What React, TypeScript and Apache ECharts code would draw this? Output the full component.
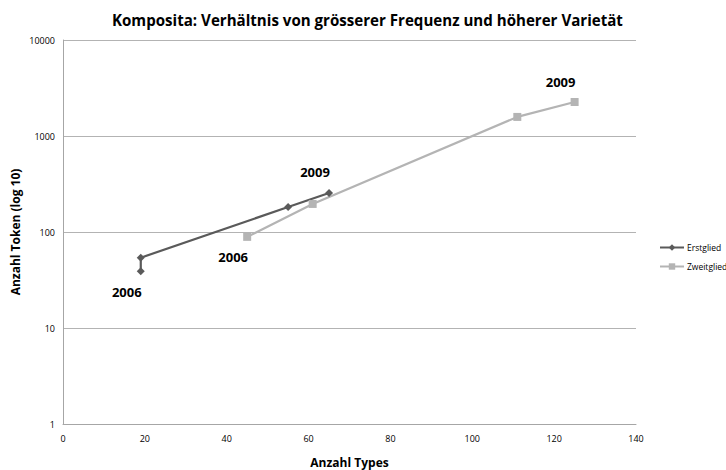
import React, { useEffect, useRef } from "react";
import * as echarts from "echarts";

const titleText = "Komposita: Verhältnis von grösserer Frequenz und höherer Varietät";
const seriesNames = ["Erstglied", "Zweitglied"];
const erstX = [19, 19, 55, 65];
const erstY = [39, 54, 182, 255];
const erstLabels = ["2006", "", "", "2009"];
const zweitX = [45, 61, 111, 125];
const zweitY = [89, 196, 1580, 2260];
const zweitLabels = ["2006", "", "", "2009"];
const colors = ["#5a5a5a", "#b4b4b4"];

const FONT = "'Open Sans', 'Liberation Sans', sans-serif";

function buildData(xs: number[], ys: number[], labels: string[]) {
  return xs.map((x, i) => {
    const item: any = { value: [x, ys[i]] };
    if (labels[i]) {
      const below = i === 0;
      item.label = {
        show: true,
        formatter: labels[i],
        position: below ? "bottom" : "top",
        distance: 10,
        offset: [-14, 0],
        fontSize: 13,
        fontWeight: "bold",
        color: "#000",
        fontFamily: FONT,
      };
    }
    return item;
  });
}

export default function App() {
  const ref = useRef<HTMLDivElement>(null);
  useEffect(() => {
    if (!ref.current) return;
    const chart = echarts.init(ref.current, null, { renderer: "svg" });
    chart.setOption({
      animation: false,
      backgroundColor: "#fff",
      title: {
        text: titleText,
        left: 107,
        top: 7,
        textStyle: { fontSize: 15.1, fontWeight: "bold", color: "#000", fontFamily: FONT },
      },
      grid: { left: 63, right: 90, top: 40, bottom: 46, containLabel: false, outerBoundsMode: "none" },
      legend: {
        orient: "vertical",
        left: 654,
        top: 238,
        itemWidth: 24,
        itemHeight: 8,
        itemGap: 10,
        textStyle: { fontSize: 8.5, color: "#000", fontFamily: FONT, padding: [0, 0, 0, -2] },
        data: seriesNames,
      },
      xAxis: {
        type: "value",
        min: 0,
        max: 140,
        interval: 20,
        name: "Anzahl Types",
        nameLocation: "middle",
        nameGap: 32,
        nameTextStyle: { fontSize: 12, fontWeight: "bold", color: "#000", fontFamily: FONT },
        axisLine: { show: true, lineStyle: { color: "#a6a6a6" } },
        axisTick: { show: false },
        splitLine: { show: false },
        axisLabel: { fontSize: 9, color: "#000", fontFamily: FONT, margin: 10 },
      },
      yAxis: {
        type: "log",
        logBase: 10,
        min: 1,
        max: 10000,
        name: "Anzahl Token (log 10)",
        nameLocation: "middle",
        nameGap: 42,
        nameRotate: 90,
        nameMoveOverlap: false,
        nameTextStyle: { fontSize: 12, fontWeight: "bold", color: "#000", fontFamily: FONT },
        axisLine: { show: true, lineStyle: { color: "#a6a6a6" } },
        axisTick: { show: false },
        splitLine: { show: true, lineStyle: { color: "#b3b3b3" } },
        axisLabel: {
          fontSize: 9,
          color: "#000",
          fontFamily: FONT,
          margin: 8,
          formatter: (v: number) => String(Math.round(v)),
        },
      },
      series: [
        {
          name: seriesNames[0],
          type: "line",
          data: buildData(erstX, erstY, erstLabels),
          symbol: "diamond",
          symbolSize: 8,
          itemStyle: { color: colors[0] },
          lineStyle: { color: colors[0], width: 2.2 },
        },
        {
          name: seriesNames[1],
          type: "line",
          data: buildData(zweitX, zweitY, zweitLabels),
          symbol: "rect",
          symbolSize: 8,
          itemStyle: { color: colors[1] },
          lineStyle: { color: colors[1], width: 2.2 },
        },
      ],
    });
    return () => chart.dispose();
  }, []);
  return <div ref={ref} style={{ width: 726, height: 470, position: "absolute", left: 0, top: 0 }} />;
}
